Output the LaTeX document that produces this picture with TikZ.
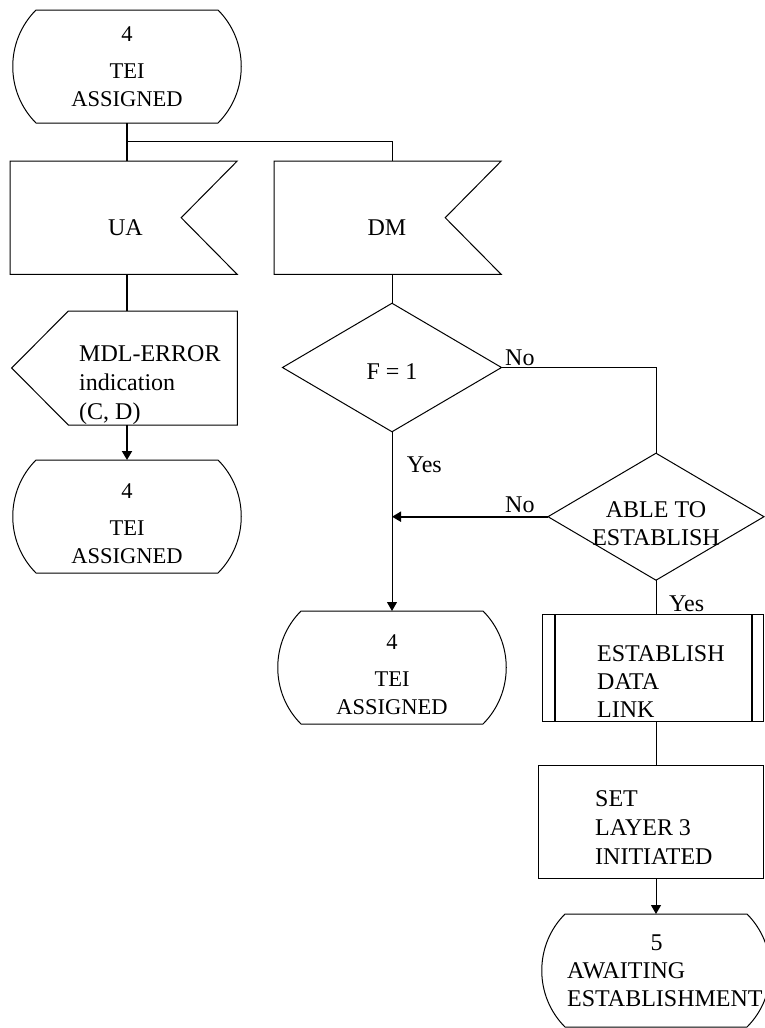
\documentclass[tikz,border=0pt]{standalone}
\usepackage{fontspec}
\setmainfont{Liberation Serif}
\usetikzlibrary{arrows.meta,calc}

% text size with a chosen line distance
\newcommand\fs[1]{\fontsize{24}{#1}\selectfont}
\newcommand\fss[1]{\fontsize{22.5}{#1}\selectfont}

% SDL state symbol: flat top and bottom, rounded sides
\newcommand\stateoutline[1]{%
  \draw[ln] (#1.north west) -- (#1.north east)
    .. controls ([xshift=31pt,yshift=-31pt]#1.north east) and ([xshift=31pt,yshift=31pt]#1.south east) .. (#1.south east)
    -- (#1.south west)
    .. controls ([xshift=-31pt,yshift=31pt]#1.south west) and ([xshift=-31pt,yshift=-31pt]#1.north west) .. cycle;}
% input signal: notch cut into the right side
\newcommand\inputoutline[1]{%
  \draw[ln] (#1.north west) -- (#1.north east) -- ([xshift=-56pt]#1.east)
    -- (#1.south east) -- (#1.south west) -- cycle;}
% output signal: point on the left side
\newcommand\outputoutline[1]{%
  \draw[ln] (#1.north west) -- (#1.north east) -- (#1.south east)
    -- (#1.south west) -- ([xshift=-56.6pt]#1.west) -- cycle;}
% decision
\newcommand\decisionoutline[1]{%
  \draw[ln] (#1.north) -- (#1.east) -- (#1.south) -- (#1.west) -- cycle;}

\tikzset{
  ln/.style={line width=1pt},
  hv/.style={line width=1.8pt},
  tip/.style={-{Triangle[length=9pt,width=10pt]}},
  frame/.style={shape=rectangle, inner sep=0pt, outer sep=0pt},
  sdlstate/.style={frame, minimum width=182pt, minimum height=113pt},
  taskbox/.style={frame, draw, line width=1pt},
  % multi-line texts are placed by the baseline of their last line
  txt/.style={inner sep=0pt, anchor=base, align=center},
  txtl/.style={inner sep=0pt, anchor=base west, align=left},
}

\begin{document}
\begin{tikzpicture}[x=1pt,y=-1pt]
\useasboundingbox (0,0) rectangle (764,1028);

% ---- symbols ----
\node[sdlstate] (t1) at (127,66.5) {};
\stateoutline{t1}
\node[frame, minimum width=227pt, minimum height=113.3pt] (ua) at (123.7,217.7) {};
\inputoutline{ua}
\node[frame, minimum width=227pt, minimum height=113.3pt] (dm) at (387.7,217.7) {};
\inputoutline{dm}
\node[frame, minimum width=169pt, minimum height=114pt] (mdl) at (152.8,368) {};
\outputoutline{mdl}
\node[sdlstate] (t2) at (127,516.5) {};
\stateoutline{t2}
\node[frame, minimum width=219pt, minimum height=128.5pt] (f) at (392,367.5) {};
\decisionoutline{f}
\node[frame, minimum width=216pt, minimum height=127pt] (able) at (656,516.7) {};
\decisionoutline{able}
\node[sdlstate] (t3) at (392,667.5) {};
\stateoutline{t3}
\node[taskbox, minimum width=220.6pt, minimum height=107.5pt] (est) at (653,668) {};
\draw[hv] ([xshift=12pt]est.north west) -- ([xshift=12pt]est.south west);
\draw[hv] ([xshift=-11pt]est.north east) -- ([xshift=-11pt]est.south east);
\node[taskbox, minimum width=224.7pt, minimum height=112.6pt] (set) at (650.7,822) {};
\node[sdlstate] (t4) at (656,970.5) {};
\stateoutline{t4}

% ---- texts ----
\node[txt, font=\fss{28}] (t1txt) at (127,106.5) {4\\[9pt]TEI\\ASSIGNED};
\node[txt, font=\fs{28}] (uatxt) at (125.5,235.7) {UA};
\node[txt, font=\fs{28}] (dmtxt) at (387,235.7) {DM};
\node[txtl, font=\fs{29}] (mdltxt) at (79,419) {MDL-ERROR\\indication\\(C, D)};
\node[txt, font=\fss{28}] (t2txt) at (127,563.3) {4\\[9pt]TEI\\ASSIGNED};
\node[txt, font=\fs{28}] (ftxt) at (392,379.3) {F = 1};
\node[txt, font=\fs{27.3}] (abletxt) at (656,545) {ABLE TO\\ESTABLISH};
\node[txt, font=\fss{28}] (t3txt) at (392,714) {4\\[9pt]TEI\\ASSIGNED};
\node[txtl, font=\fs{28}] (esttxt) at (597,717.5) {ESTABLISH\\DATA\\LINK};
\node[txtl, font=\fs{28.7}] (settxt) at (595,864.1) {SET\\LAYER 3\\INITIATED};
\node[txt, font=\fs{28}] (t4num) at (656.7,950) {5};
\node[txtl, font=\fs{28}] (t4txt) at (567,1006) {AWAITING\\ESTABLISHMENT};

% ---- connectors ----
\coordinate (br) at ($(t1.south)+(0,18)$);
\draw[hv] (t1.south) -- (t1.south |- ua.north);
\draw[ln] (br) -| (f.north |- dm.north);
\draw[ln] (f.north |- dm.south) -- (f.north);
\draw[hv] (t1.south |- ua.south) -- (t1.south |- mdl.north);
\draw[hv,tip] (t1.south |- mdl.south) -- (t2.north);
\draw[ln] (f.east) -| (able.north);
\coordinate (join) at (f.south |- able.west);
\draw[hv,tip] (able.west) -- (join);
\draw[ln,tip] (f.south) -- (t3.north);
\draw[ln] (able.south) -- (able.south |- est.north);
\draw[ln] (able.south |- est.south) -- (able.south |- set.north);
\draw[ln,tip] (able.south |- set.south) -- (t4.north);

% ---- branch labels ----
\node[txtl, font=\fs{28}] (no1) at (505,365) {No};
\node[txtl, font=\fs{28}] (no2) at (505,512.7) {No};
\node[txtl, font=\fs{28}] (yes1) at (406.7,472.7) {Yes};
\node[txtl, font=\fs{28}] (yes2) at (669,611.7) {Yes};
\end{tikzpicture}
\end{document}
